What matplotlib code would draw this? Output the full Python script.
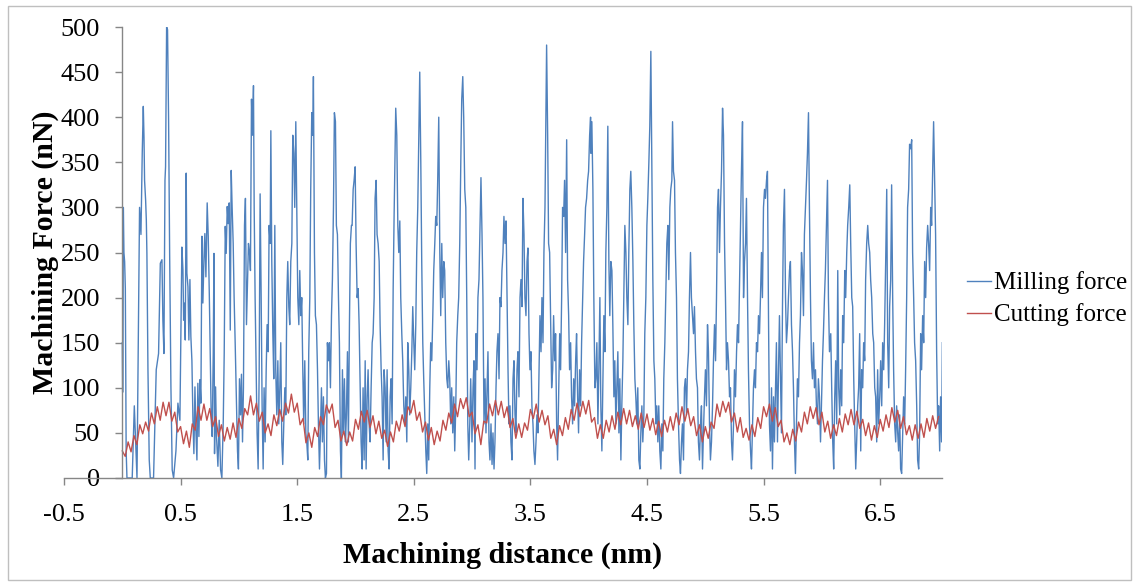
import numpy as np
import matplotlib.pyplot as plt
from matplotlib.patches import Rectangle

plt.rcParams['font.family'] = ['Liberation Serif', 'DejaVu Serif']

# milling force as (distance, force) vertices
milling_dist = [
    0.000, 0.003, 0.006, 0.009, 0.014, 0.020, 0.026, 0.033, 0.040, 0.085,
    0.103, 0.126, 0.148, 0.160, 0.171, 0.180, 0.186, 0.191, 0.200, 0.206,
    0.211, 0.220, 0.231, 0.240, 0.268, 0.291, 0.311, 0.326, 0.340, 0.348,
    0.357, 0.366, 0.371, 0.380, 0.388, 0.397, 0.406, 0.417, 0.428, 0.440,
    0.460, 0.477, 0.494, 0.511, 0.520, 0.526, 0.531, 0.540, 0.548, 0.554,
    0.563, 0.571, 0.580, 0.588, 0.597, 0.606, 0.614, 0.623, 0.631, 0.640,
    0.648, 0.657, 0.666, 0.674, 0.683, 0.691, 0.700, 0.708, 0.717, 0.728,
    0.737, 0.746, 0.754, 0.763, 0.771, 0.780, 0.786, 0.791, 0.800, 0.808,
    0.820, 0.831, 0.843, 0.854, 0.866, 0.874, 0.883, 0.891, 0.900, 0.908,
    0.917, 0.926,
    0.934, 0.942, 0.951, 0.959, 0.968, 0.976, 0.988, 0.996,
    1.005, 1.014, 1.022, 1.031, 1.039, 1.048, 1.056, 1.065, 1.074, 1.082,
    1.091, 1.099, 1.108, 1.116, 1.125, 1.131, 1.139, 1.148, 1.156, 1.165,
    1.174, 1.182, 1.191, 1.199, 1.208, 1.216, 1.225, 1.234, 1.242, 1.251,
    1.259, 1.268, 1.274, 1.282, 1.291, 1.299, 1.308, 1.316, 1.325, 1.334,
    1.342, 1.351, 1.359, 1.368, 1.376, 1.385, 1.394, 1.402, 1.411, 1.419,
    1.428, 1.436, 1.445, 1.454, 1.462, 1.471, 1.479, 1.488, 1.496, 1.505,
    1.514, 1.522, 1.531, 1.539, 1.548, 1.556, 1.565, 1.574, 1.582, 1.591,
    1.599, 1.608, 1.616, 1.625, 1.634, 1.639, 1.648, 1.656, 1.665, 1.674,
    1.682, 1.691, 1.699, 1.708, 1.716, 1.725, 1.734, 1.742, 1.751, 1.759,
    1.768, 1.776, 1.785, 1.794, 1.802, 1.811, 1.819, 1.828, 1.836, 1.845,
    1.854, 1.862, 1.871, 1.879, 1.888, 1.896, 1.905, 1.914, 1.922, 1.931,
    1.939, 1.948, 1.956, 1.965,
    1.971, 1.980, 1.988, 1.997, 2.005, 2.014, 2.023, 2.031, 2.040, 2.048,
    2.057, 2.065, 2.074, 2.083, 2.091, 2.100, 2.108, 2.117, 2.125, 2.134,
    2.143, 2.151, 2.160, 2.168, 2.177, 2.185, 2.194, 2.203, 2.211, 2.220,
    2.228, 2.237, 2.245, 2.254, 2.263, 2.271, 2.280, 2.288, 2.297, 2.305,
    2.314, 2.323, 2.331, 2.340, 2.345, 2.354, 2.363, 2.371, 2.380, 2.388,
    2.397, 2.405, 2.414, 2.423, 2.431, 2.440, 2.448, 2.457, 2.465, 2.474,
    2.483, 2.491, 2.500, 2.508, 2.517, 2.525, 2.534, 2.543, 2.551, 2.560,
    2.568, 2.577, 2.585, 2.594, 2.603, 2.611, 2.620, 2.628, 2.637, 2.645,
    2.654, 2.663, 2.671, 2.680, 2.688, 2.697, 2.705, 2.714, 2.723, 2.731,
    2.740, 2.748, 2.757, 2.765, 2.774, 2.783, 2.791, 2.800, 2.808, 2.817,
    2.825, 2.834, 2.843, 2.851, 2.860, 2.868, 2.877, 2.885, 2.894, 2.903,
    2.911, 2.920, 2.928, 2.937, 2.946, 2.954, 2.963, 2.971, 2.980, 2.988,
    2.999, 3.008, 3.016, 3.025, 3.033, 3.042, 3.050, 3.059, 3.068, 3.076,
    3.085, 3.093, 3.102, 3.111, 3.119, 3.128, 3.136, 3.145, 3.153, 3.162,
    3.171, 3.179, 3.188, 3.196, 3.205, 3.213, 3.222, 3.231, 3.239, 3.248,
    3.256, 3.265, 3.273, 3.282, 3.291, 3.299, 3.308, 3.316, 3.325, 3.333,
    3.342, 3.351, 3.359, 3.368, 3.376, 3.385, 3.393, 3.402, 3.411, 3.419,
    3.428, 3.436, 3.445, 3.453, 3.462, 3.471, 3.479, 3.488, 3.496, 3.505,
    3.513, 3.522, 3.530, 3.539, 3.548, 3.556, 3.565, 3.573, 3.582, 3.591,
    3.599, 3.608, 3.616, 3.625, 3.633, 3.639, 3.648, 3.656, 3.665, 3.674,
    3.682, 3.691, 3.699, 3.708, 3.716, 3.725, 3.733, 3.742, 3.751, 3.759,
    3.768, 3.776, 3.785, 3.793, 3.802, 3.811, 3.819, 3.828, 3.836, 3.845,
    3.853, 3.862, 3.871, 3.879, 3.888, 3.896, 3.905, 3.913, 3.922, 3.931,
    3.939, 3.948, 3.956, 3.965, 3.973, 3.982, 3.991, 3.999, 4.008, 4.016,
    4.019, 4.027, 4.036, 4.044, 4.053, 4.061, 4.070, 4.079, 4.087, 4.096,
    4.104, 4.113, 4.121, 4.130, 4.139, 4.147, 4.156, 4.164, 4.173, 4.181,
    4.190, 4.199, 4.207, 4.216, 4.224, 4.233, 4.241, 4.250, 4.259, 4.267,
    4.276, 4.284, 4.293, 4.301, 4.310, 4.319, 4.327, 4.336, 4.344, 4.353,
    4.361, 4.370, 4.379, 4.387, 4.396, 4.404, 4.413, 4.421, 4.430, 4.439,
    4.447, 4.456, 4.464, 4.473, 4.481, 4.490, 4.499, 4.507, 4.516, 4.524,
    4.533, 4.541, 4.550, 4.559, 4.567, 4.576, 4.584, 4.593, 4.601, 4.610,
    4.619, 4.627, 4.636, 4.644, 4.653, 4.661, 4.670, 4.679, 4.687, 4.696,
    4.704, 4.713, 4.719, 4.727, 4.736, 4.744, 4.753, 4.761, 4.770, 4.779,
    4.787, 4.796, 4.804, 4.813, 4.821, 4.830, 4.839, 4.847, 4.856, 4.864,
    4.873, 4.881, 4.890, 4.899, 4.907, 4.916, 4.924, 4.933, 4.941, 4.950,
    4.959, 4.967, 4.976, 4.984, 4.993, 5.001, 5.010, 5.019, 5.027, 5.036,
    5.044,
    5.053, 5.062, 5.070, 5.079, 5.088, 5.096, 5.105, 5.113, 5.122, 5.130,
    5.139, 5.148, 5.156, 5.165, 5.173, 5.182, 5.190, 5.199, 5.208, 5.216,
    5.225, 5.233, 5.242, 5.250, 5.259, 5.268, 5.276, 5.285, 5.293, 5.302,
    5.310, 5.319, 5.328, 5.336, 5.345, 5.353, 5.362, 5.370, 5.379, 5.388,
    5.396, 5.405, 5.413, 5.422, 5.430, 5.439, 5.448, 5.456, 5.465, 5.473,
    5.482, 5.490, 5.499, 5.508, 5.516, 5.525, 5.533, 5.542, 5.550, 5.559,
    5.568, 5.576, 5.585, 5.593, 5.602, 5.610, 5.619, 5.628, 5.636, 5.645,
    5.653, 5.662, 5.670, 5.679, 5.688, 5.696, 5.705, 5.713, 5.722, 5.730,
    5.739, 5.748, 5.756, 5.765, 5.773, 5.782, 5.790, 5.799, 5.808, 5.816,
    5.825, 5.833, 5.842, 5.850, 5.859, 5.868, 5.876, 5.885, 5.893, 5.902,
    5.910, 5.919, 5.928, 5.936, 5.945, 5.953, 5.962, 5.970, 5.979, 5.988,
    5.996, 6.005, 6.013, 6.022, 6.030, 6.039, 6.048, 6.056, 6.065,
    6.076, 6.084, 6.093, 6.101, 6.110, 6.118, 6.127, 6.136, 6.144, 6.153,
    6.161, 6.170, 6.178, 6.187, 6.196, 6.204, 6.213, 6.221, 6.230, 6.239,
    6.247, 6.256, 6.264, 6.273, 6.281, 6.290, 6.298, 6.307, 6.315, 6.324,
    6.333, 6.341, 6.350, 6.358, 6.367, 6.375, 6.384, 6.393, 6.401, 6.410,
    6.418, 6.427, 6.436, 6.444, 6.453, 6.461, 6.470, 6.478, 6.487, 6.496,
    6.504, 6.513, 6.521, 6.530, 6.538, 6.547, 6.556, 6.564, 6.573, 6.581,
    6.590, 6.598, 6.607, 6.615, 6.624, 6.633, 6.641, 6.650, 6.658, 6.667,
    6.675, 6.684, 6.693, 6.701, 6.710, 6.718, 6.727, 6.735, 6.744, 6.752,
    6.761, 6.770, 6.778, 6.787, 6.795, 6.804, 6.813, 6.821, 6.830, 6.838,
    6.847, 6.855, 6.864, 6.873, 6.881, 6.890, 6.898, 6.907, 6.915, 6.924,
    6.933, 6.941, 6.950, 6.958, 6.967, 6.975, 6.984, 6.993, 7.001, 7.010,
    7.018, 7.027, 7.033,
]

milling_force = [
    150, 95, 140, 300, 250, 240, 210, 30, 0, 0,
    80, 0, 300, 270, 360, 412, 378, 330, 308, 286,
    249, 120, 20, 0, 0, 120, 138, 238, 242, 175,
    138, 330, 345, 500, 497, 397, 249, 101, 9, 0,
    30, 83, 64, 256, 231, 175, 194, 153, 338, 227,
    212, 153, 220, 157, 130, 64, 27, 101, 53, 20,
    105, 46, 109, 83, 268, 194, 242, 271, 223, 305,
    268, 205, 138, 64, 46, 138, 249, 27, 101, 46,
    13, 64, 9, 0, 64, 138, 279, 249, 301, 282,
    305, 164,
    341, 300, 260, 200, 150, 100, 30, 10,
    110, 70, 115, 40, 100, 280, 310, 170, 220, 260,
    250, 230, 420, 380, 435, 300, 200, 120, 50, 10,
    120, 315, 200, 80, 10, 100, 40, 120, 170, 140,
    280, 260, 385, 240, 160, 110, 280, 120, 70, 130,
    60, 100, 150, 40, 15, 60, 100, 70, 200, 240,
    190, 170, 240, 260, 380, 360, 300, 395, 300, 200,
    170, 230, 180, 200, 120, 60, 130, 50, 40, 20,
    140, 200, 320, 405, 380, 445, 250, 180, 170, 120,
    60, 10, 50, 100, 40, 90, 20, 0, 5, 150,
    130, 150, 100, 180, 220, 300, 405, 395, 280, 270,
    200, 150, 30, 0, 120, 50, 110, 40, 70, 140,
    40, 170, 260, 280,
    280, 320, 330, 345, 260, 200, 210, 170, 100, 40,
    10, 100, 20, 130, 10, 90, 120, 60, 40, 100,
    150, 160, 200, 310, 330, 270, 260, 240, 170, 120,
    90, 20, 120, 100, 40, 120, 30, 10, 90, 110,
    60, 210, 290, 365, 410, 380, 280, 250, 285, 200,
    160, 130, 80, 60, 90, 40, 150, 120, 70, 100,
    140, 190, 150, 120, 170, 250, 300, 380, 450, 350,
    240, 150, 110, 70, 30, 5, 60, 20, 100, 150,
    130, 180, 230, 260, 290, 280, 330, 400, 250, 180,
    260, 200, 240, 230, 150, 110, 100, 130, 110, 60,
    100, 50, 90, 30, 80, 150, 180, 200, 260, 350,
    420, 445, 400, 320, 300, 200, 60, 20, 60, 110,
    40, 100, 130, 10, 160, 120, 200, 220, 280, 333,
    270, 200, 60, 110, 50, 100, 140, 40, 20, 60,
    15, 50, 10, 40, 100, 140, 160, 110, 200, 190,
    230, 250, 290, 260, 285, 210, 120, 60, 80, 40,
    20, 110, 130, 70, 50, 120, 140, 90, 200, 220,
    190, 310, 270, 200, 180, 240, 255, 160, 120, 140,
    80, 60, 30, 15, 40, 70, 50, 110, 180, 140,
    200, 150, 250, 300, 400, 480, 380, 260, 250, 170,
    100, 120, 180, 130, 160, 60, 20, 90, 160, 120,
    200, 300, 290, 330, 250, 375, 220, 180, 120, 150,
    90, 60, 110, 80, 130, 160, 90, 50, 120, 80,
    150, 200, 240, 270, 300, 310, 330, 340, 380, 400,
    360, 395, 320, 200, 100, 110, 150, 60, 120, 200,
    80, 30, 100, 180, 140, 250, 300, 390, 240, 180,
    240, 230, 170, 90, 130, 60, 100, 140, 50, 110,
    20, 80, 130, 200, 280, 250, 200, 170, 250, 320,
    340, 300, 240, 170, 110, 90, 60, 100, 20, 10,
    50, 80, 40, 70, 160, 200, 280, 310, 350, 390,
    473, 350, 220, 130, 110, 60, 80, 40, 80, 30,
    10, 60, 30, 110, 150, 200, 260, 280, 220, 300,
    320, 330, 395, 340, 330, 250, 200, 110, 60, 20,
    5, 40, 60, 20, 100, 110, 70, 120, 140, 200,
    250, 200, 180, 160, 190, 140, 110, 100, 40, 20,
    60, 80, 10, 50, 90, 120, 80, 170, 140, 60,
    20,
    40, 80, 130, 170, 130, 200, 300, 320, 250, 300,
    340, 410, 380, 260, 200, 120, 150, 130, 90, 100,
    40, 20, 60, 120, 90, 140, 170, 150, 210, 280,
    340, 395, 200, 240, 260, 310, 200, 120, 60, 30,
    10, 60, 100, 120, 100, 150, 140, 180, 160, 200,
    250, 200, 300, 320, 310, 330, 340, 180, 60, 30,
    100, 10, 90, 40, 100, 150, 40, 120, 180, 110,
    50, 190, 280, 320, 200, 150, 170, 200, 230, 240,
    170, 140, 100, 40, 5, 60, 110, 90, 150, 180,
    250, 230, 180, 270, 300, 330, 360, 405, 300, 200,
    130, 110, 150, 100, 120, 80, 60, 110, 90, 40,
    80, 130, 160, 200, 230, 280, 330, 200, 140,
    160, 100, 40, 10, 90, 130, 60, 230, 100, 70,
    120, 80, 180, 150, 230, 200, 250, 280, 300, 325,
    260, 200, 190, 110, 60, 10, 40, 80, 100, 160,
    30, 120, 100, 150, 130, 220, 260, 280, 260, 250,
    220, 200, 160, 150, 100, 90, 40, 120, 60, 90,
    130, 80, 150, 120, 170, 240, 320, 150, 100, 190,
    220, 325, 200, 120, 60, 40, 80, 50, 30, 70,
    10, 5, 50, 90, 60, 120, 200, 300, 320, 370,
    365, 375, 250, 200, 150, 130, 80, 20, 10, 50,
    160, 120, 180, 150, 240, 200, 255, 280, 260, 230,
    300, 280, 340, 395, 330, 270, 140, 60, 80, 30,
    90, 40, 150,
]

# cutting force, sampled every 0.025 nm from 0 to 7.0 nm
cutting_step = 0.025
cutting_force = [
    30, 24, 40, 29, 47, 37, 59, 49, 62, 52,
    72, 60, 79, 64, 84, 69, 84, 63, 73, 51,
    57, 38, 52, 34, 60, 53, 79, 64, 82, 64,
    77, 57, 68, 46, 59, 41, 56, 43, 61, 45,
    66, 55, 77, 70, 91, 70, 83, 63, 73, 50,
    60, 47, 70, 58, 76, 63, 83, 72, 93, 73,
    83, 59, 66, 39, 50, 34, 56, 46, 68, 59,
    81, 72, 82, 56, 64, 41, 52, 36, 51, 41,
    65, 54, 74, 62, 75, 56, 69, 49, 63, 44,
    53, 35, 51, 40, 63, 52, 70, 57, 79, 72,
    86, 64, 73, 51, 62, 42, 56, 37, 52, 41,
    64, 53, 72, 61, 82, 68, 88, 77, 89, 68,
    73, 49, 59, 37, 63, 61, 82, 69, 86, 70,
    85, 67, 79, 56, 66, 44, 60, 45, 61, 53,
    76, 66, 82, 62, 75, 59, 69, 44, 54, 37,
    58, 47, 67, 54, 76, 64, 83, 68, 85, 71,
    86, 62, 67, 44, 59, 44, 64, 51, 69, 54,
    73, 59, 77, 60, 75, 57, 69, 54, 72, 56,
    71, 53, 66, 48, 63, 46, 64, 51, 68, 53,
    72, 59, 79, 63, 77, 58, 68, 47, 59, 40,
    57, 44, 62, 55, 82, 68, 85, 73, 84, 62,
    72, 51, 67, 45, 55, 42, 59, 46, 67, 55,
    79, 68, 82, 63, 78, 57, 64, 40, 50, 37,
    54, 41, 62, 51, 73, 60, 79, 66, 78, 59,
    73, 51, 63, 44, 59, 47, 66, 51, 71, 59,
    76, 59, 74, 55, 65, 47, 61, 42, 58, 45,
    65, 52, 70, 56, 78, 62, 75, 55, 68, 48,
    58, 42, 59, 44, 60, 45, 66, 52, 69, 55,
    68,
]

x_ticks = [-0.5, 0.5, 1.5, 2.5, 3.5, 4.5, 5.5, 6.5]
y_ticks = [0, 50, 100, 150, 200, 250, 300, 350, 400, 450, 500]

cutting_dist = np.arange(len(cutting_force)) * cutting_step

W, H = 1139, 586
fig = plt.figure(figsize=(W / 100, H / 100), dpi=100)
ax = fig.add_axes([64 / W, 1 - 478 / H, 878 / W, 451 / H])

ax.plot(milling_dist, milling_force, color='#4F81BD', lw=1.0, label='Milling force')
ax.plot(cutting_dist, cutting_force, color='#C0504D', lw=1.0, label='Cutting force')

ax.set_xlim(-0.5, 7.03)
ax.set_ylim(0, 500)
ax.set_xticks(x_ticks)
ax.set_xticklabels([str(t) for t in x_ticks])
ax.set_yticks(y_ticks)

ax.spines['left'].set_position(('data', 0))
ax.spines['top'].set_visible(False)
ax.spines['right'].set_visible(False)
for s in ['left', 'bottom']:
    ax.spines[s].set_color('#868686')
    ax.spines[s].set_linewidth(1.0)
ax.tick_params(direction='out', length=5, width=1, color='#868686', labelsize=19)
ax.tick_params(axis='x', pad=14)
ax.tick_params(axis='y', pad=11)

fig.text(503 / W, 1 - 555 / H, 'Machining distance (nm)', ha='center', va='center',
         fontsize=21.5, fontweight='bold')
fig.text(45 / W, 1 - 252 / H, 'Machining Force (nN)', ha='center', va='center',
         rotation=90, fontsize=21.5, fontweight='bold')

ax.legend(loc='center left', bbox_to_anchor=(967 / W, 1 - 299 / H),
          bbox_transform=fig.transFigure, frameon=False, fontsize=18,
          handlelength=0.95, handletextpad=0.15, labelspacing=0.36,
          borderpad=0, borderaxespad=0)

fig.patches.append(Rectangle((8 / W, 1 - 580 / H), 1123 / W, 574 / H,
                             transform=fig.transFigure, fill=False,
                             edgecolor='#bfbfbf', lw=1))

fig.savefig('out.png', dpi=100)
